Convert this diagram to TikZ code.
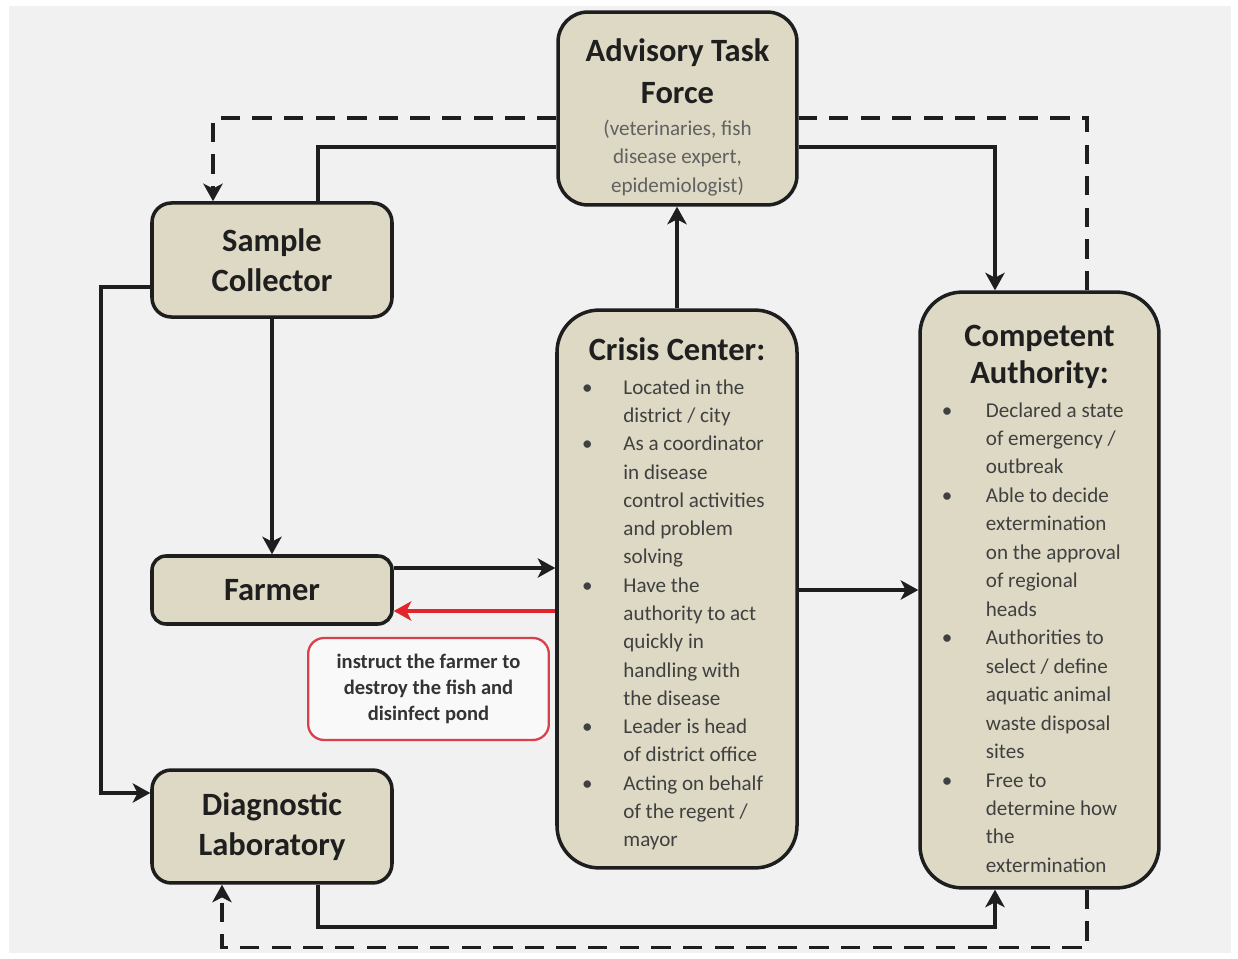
\documentclass[tikz,border=0pt]{standalone}
\usepackage{fontspec}
\setmainfont{Carlito}
\usetikzlibrary{arrows.meta}
\usetikzlibrary{calc}
\usetikzlibrary{shapes}

\definecolor{boxtan}{HTML}{DDD9C4}
\definecolor{boxline}{HTML}{1E1E1E}
\definecolor{bggray}{HTML}{F1F1F1}
\definecolor{alertred}{HTML}{E3242B}
\definecolor{notered}{HTML}{D8404C}

\newlength{\listw}
\newlength{\bulw}
\newcommand{\bitem}[1]{\makebox[\listw][l]{\makebox[\bulw][l]{\textbullet}#1}}
\newcommand{\bcont}[1]{\makebox[\listw][l]{\hspace*{\bulw}#1}}
\newcommand{\boxtitle}{\fontsize{18.5}{23}\selectfont\bfseries\color{black!88}}
\newcommand{\subtext}{\fontsize{12}{16}\selectfont\color{black!62}}

\begin{document}
\begin{tikzpicture}[x=0.02cm, y=-0.02cm]

\tikzstyle{box}=[draw=boxline, line width=2pt, fill=boxtan, align=center, inner sep=0pt, text=black!75]
\tikzstyle{small}=[box, minimum width=136.6pt, rounded corners=11pt, font=\boxtitle, text=black!88]
\tikzstyle{tall}=[box, minimum width=136.6pt, rounded corners=24pt, font=\fontsize{12}{16.15}\selectfont]
\tikzstyle{note}=[draw=notered, line width=1.3pt, fill=white!60!bggray, rounded corners=9pt, align=center, minimum width=137pt, minimum height=58pt, font=\fontsize{11.7}{14.6}\selectfont\bfseries, text=black!80]

\tikzstyle{connect}=[-{Stealth[length=10pt, width=11pt, inset=2.8pt]}, line width=2pt, draw=boxline]
\tikzstyle{plain}=[line width=2pt, draw=boxline]
\tikzstyle{dashline}=[line width=2pt, draw=boxline, dash pattern=on 11pt off 7pt]

% page and background
\fill[white] (0,0) rectangle (1238,959);
\fill[bggray] (9,6) rectangle (1231,953);
\useasboundingbox (0,0) rectangle (1238,959);

% boxes
\node[box, minimum width=136pt, minimum height=109.8pt, rounded corners=17pt, font=\fontsize{12}{16}\selectfont] (atf) at (677.5,108.5)
  {\rule{0pt}{22.7pt}\boxtitle Advisory Task\\[8pt] \boxtitle Force\\[2.5pt]
   \subtext (veterinaries, fish\\ \subtext disease expert,\\ \subtext epidemiologist)};

\node[small, minimum height=64.9pt] (sc) at (272,260) {Sample\\ Collector};
\node[small, minimum height=38.7pt, rounded corners=8pt] (fa) at (272,590) {Farmer};
\node[small, minimum height=64.3pt] (dl) at (272,826.5) {Diagnostic\\ Laboratory};

\node[tall, minimum height=317.5pt, font=\fontsize{12}{16.1}\selectfont\setlength{\listw}{108pt}\setlength{\bulw}{23.5pt}] (cc) at (677,589)
  {\rule{0pt}{18.7pt}\boxtitle Crisis Center:\\[3pt]
   \bitem{Located in the}\\ \bcont{district / city}\\
   \bitem{As a coordinator}\\ \bcont{in disease}\\ \bcont{control activities}\\ \bcont{and problem}\\ \bcont{solving}\\
   \bitem{Have the}\\ \bcont{authority to act}\\ \bcont{quickly in}\\ \bcont{handling with}\\ \bcont{the disease}\\
   \bitem{Leader is head}\\ \bcont{of district office}\\
   \bitem{Acting on behalf}\\ \bcont{of the regent /}\\ \bcont{mayor}};

\node[tall, minimum width=136pt, minimum height=339.1pt, font=\fontsize{12}{16.2}\selectfont\setlength{\listw}{111pt}\setlength{\bulw}{25pt}] (ca) at (1039.5,590)
  {\rule{0pt}{22pt}\boxtitle Competent\\[5pt] \boxtitle Authority:\\[3pt]
   \bitem{Declared a state}\\ \bcont{of emergency /}\\ \bcont{outbreak}\\
   \bitem{Able to decide}\\ \bcont{extermination}\\ \bcont{on the approval}\\ \bcont{of regional}\\ \bcont{heads}\\
   \bitem{Authorities to}\\ \bcont{select / define}\\ \bcont{aquatic animal}\\ \bcont{waste disposal}\\ \bcont{sites}\\
   \bitem{Free to}\\ \bcont{determine how}\\ \bcont{the}\\ \bcont{extermination}};

\node[note] (instr) at (428.5,689) {instruct the farmer to\\ destroy the fish and\\ disinfect pond};

% solid connectors
\draw[plain] ($(sc.north)+(46,0)$) |- ($(atf.west)+(0,38.5)$);
\draw[connect] ($(atf.east)+(0,38.5)$) -| ($(ca.north)+(-44.5,0)$);
\draw[connect] (cc.north) -- (cc.north |- atf.south);
\draw[connect] (sc.south) -- (fa.north);
\draw[connect] ($(sc.west)+(0,27)$) -- ++(-49,0) |- ($(dl.west)+(0,-33.5)$);
\draw[connect] ($(fa.east)+(0,-22)$) -- ($(cc.west)+(0,-21)$);
\draw[connect, draw=alertred] ($(cc.west)+(0,22)$) -- ($(fa.east)+(0,21)$);
\draw[connect] ($(cc.east)+(0,1)$) -- (ca.west);
\draw[connect] ($(dl.south)+(46,0)$) -- ++(0,42) -| ($(ca.south)+(-44.5,0)$);

% dashed connectors
\draw[dashline] ($(ca.north)+(47.5,0)$) |- ($(atf.east)+(0,9.5)$);
\draw[dashline, -{Stealth[length=10pt, width=11pt, inset=2.8pt]}] ($(atf.west)+(0,9.5)$) -| ($(sc.north)+(-59,0)$);
\draw[dashline, -{Stealth[length=10pt, width=11pt, inset=2.8pt]}] ($(ca.south)+(47.5,0)$) -- ++(0,58) -| ($(dl.south)+(-50,0)$);

\end{tikzpicture}
\end{document}
